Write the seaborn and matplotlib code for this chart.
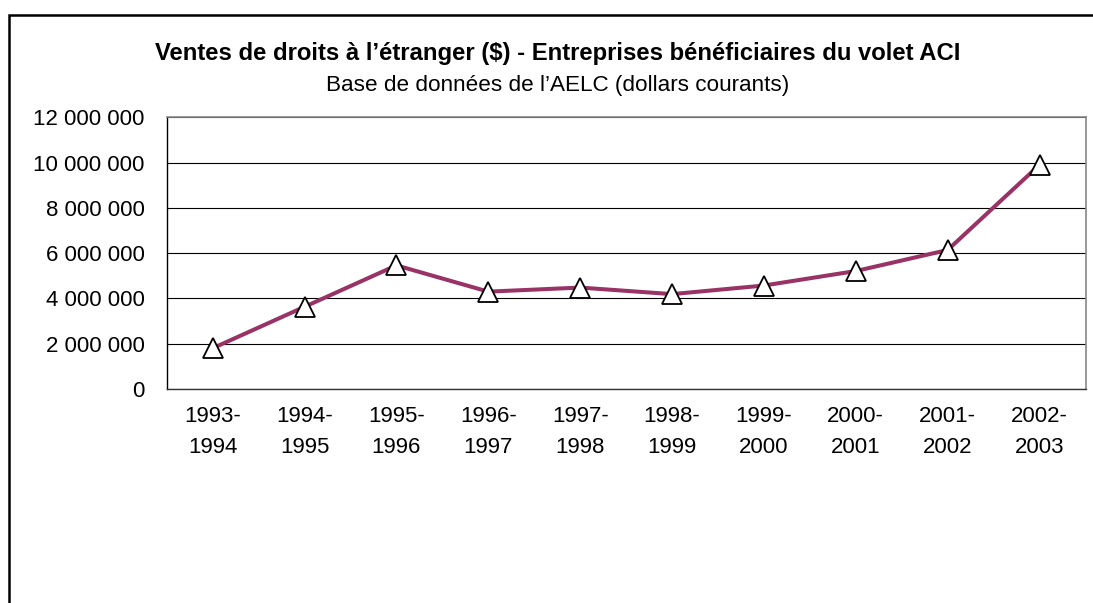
import matplotlib
matplotlib.use("Agg")
import matplotlib.pyplot as plt
import matplotlib.ticker as mticker
from matplotlib.patches import Rectangle
import seaborn as sns
import pandas as pd

# values
periods = ["1993-\n1994", "1994-\n1995", "1995-\n1996", "1996-\n1997", "1997-\n1998",
           "1998-\n1999", "1999-\n2000", "2000-\n2001", "2001-\n2002", "2002-\n2003"]
ventes = [1800000, 3630000, 5460000, 4300000, 4480000,
          4190000, 4570000, 5210000, 6140000, 9900000]
y_ticks = [0, 2000000, 4000000, 6000000, 8000000, 10000000, 12000000]

title = "Ventes de droits à l’étranger ($) - Entreprises bénéficiaires du volet ACI"
subtitle = "Base de données de l’AELC (dollars courants)"

df = pd.DataFrame({"pos": range(len(periods)), "ventes": ventes})

sns.set_style("white")
plt.rcParams["font.family"] = ["Liberation Sans", "DejaVu Sans"]
plt.rcParams["text.color"] = "black"
plt.rcParams["xtick.color"] = "black"
plt.rcParams["ytick.color"] = "black"

fig = plt.figure(figsize=(10.93, 6.03), dpi=100)
ax = fig.add_axes([166.7 / 1093, 1 - 389 / 603, (1085.5 - 166.7) / 1093, (389 - 117.3) / 603])

sns.lineplot(data=df, x="pos", y="ventes", ax=ax, color="#993366", linewidth=2.9,
             marker="^", markersize=15, markerfacecolor="white",
             markeredgecolor="black", markeredgewidth=1.3, zorder=3)

ax.set_xlim(-0.5, len(periods) - 0.5)
ax.set_ylim(0, 12000000)
ax.set_yticks(y_ticks)
ax.yaxis.set_major_formatter(mticker.FuncFormatter(lambda v, p: f"{int(v):,}".replace(",", " ")))
ax.set_xticks(range(len(periods)))
ax.set_xticklabels(periods, linespacing=1.65)
ax.set_xticks([i - 0.5 for i in range(len(periods) + 1)], minor=True)
ax.tick_params(axis="x", which="major", length=0, pad=12, labelsize=16, labelcolor="black")
ax.tick_params(axis="x", which="minor", length=6, width=1, color="#333333", direction="out")
ax.tick_params(axis="y", length=6, width=1, color="black", direction="out", pad=10,
               labelsize=16, labelcolor="black")
ax.set_xlabel("")
ax.set_ylabel("")

ax.grid(axis="y", color="black", linewidth=0.8)
ax.set_axisbelow(True)
for side in ["top", "right"]:
    ax.spines[side].set_color("#888888")
    ax.spines[side].set_linewidth(1.2)
ax.spines["left"].set_color("black")
ax.spines["bottom"].set_color("#333333")
for side in ["left", "bottom"]:
    ax.spines[side].set_linewidth(1)

fig.text(558 / 1093, 1 - 60 / 603, title, ha="center", va="baseline",
         fontsize=17.2, fontweight="bold")
fig.text(558 / 1093, 1 - 91 / 603, subtitle, ha="center", va="baseline", fontsize=16.2)

# outer chart frame (cut off at right and bottom in the reference)
fig.add_artist(Rectangle((8.5 / 1093, -0.2), 1.5, 1.2 - 14.5 / 603, transform=fig.transFigure,
                         fill=False, edgecolor="black", linewidth=1.8))

fig.savefig("out.png", dpi=100)
